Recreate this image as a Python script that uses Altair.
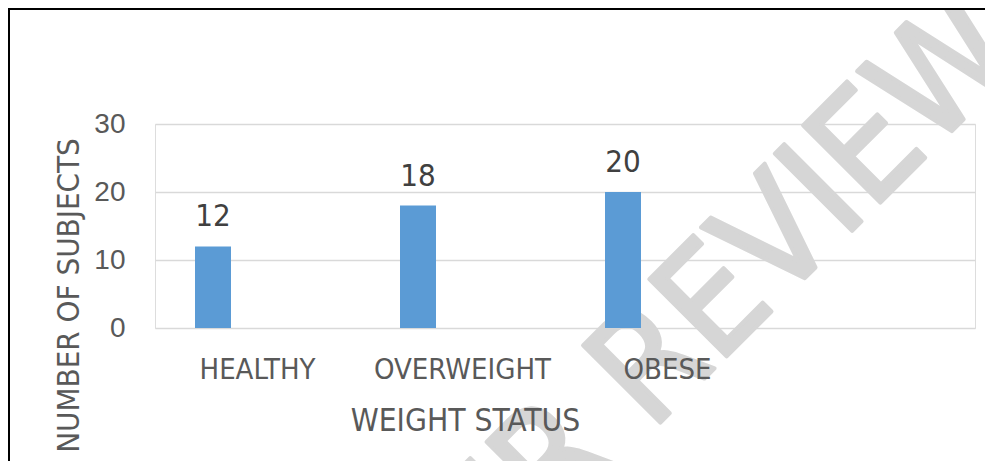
import altair as alt
import pandas as pd

# ---- data ----
categories = ["HEALTHY", "OVERWEIGHT", "OBESE", ""]
subjects = [12, 18, 20]
y_ticks = [0, 10, 20, 30]
x_title = "WEIGHT STATUS"
y_title = "NUMBER OF SUBJECTS"
watermark = "PEER REVIEW"

df = pd.DataFrame({"status": categories[:3], "n": subjects})

NARROW = "DejaVu Sans Condensed, sans-serif"
REG = "Liberation Sans, Arial, sans-serif"
GRAY = "#595959"

x_enc = alt.X(
    "status:N",
    sort=categories,
    scale=alt.Scale(domain=categories, paddingInner=0, paddingOuter=0),
    axis=alt.Axis(
        title=x_title, labelAngle=0, labelFontSize=29, labelFont=NARROW,
        labelColor=GRAY, labelBaseline="alphabetic", labelPadding=50,
        labelLimit=0, ticks=False, domain=False, grid=False, zindex=1,
        titleFontSize=31.5, titleFont=NARROW, titleColor=GRAY,
        titleFontWeight="normal", titleX=310, titleY=102,
        titleBaseline="alphabetic", titleAlign="center", titleLimit=0,
    ),
)
y_enc = alt.Y(
    "n:Q",
    scale=alt.Scale(domain=[0, 30], nice=False),
    axis=alt.Axis(
        values=y_ticks, labelFontSize=28, labelFont=REG, labelColor=GRAY,
        labelPadding=30, ticks=False, domain=False, grid=True,
        gridColor="#D9D9D9", gridWidth=1.5,
        title=y_title, titleFontSize=31, titleFont=NARROW, titleColor=GRAY,
        titleFontWeight="normal", titleX=-77, titleY=171, titleAngle=270,
        titleBaseline="alphabetic", titleAlign="center", titleLimit=0,
    ),
)

wm = alt.Chart(pd.DataFrame({"t": [watermark]})).mark_text(
    angle=315, fontSize=150, font=NARROW, color="#d6d6d6",
    stroke="#d6d6d6", strokeWidth=4, strokeJoin="round",
    align="center", baseline="alphabetic",
).encode(text="t:N", x=alt.value(546), y=alt.value(258))

one = pd.DataFrame({"k": [0]})
border_top = alt.Chart(one).mark_rule(color="black", strokeWidth=2).encode(
    x=alt.value(-147), x2=alt.value(840), y=alt.value(-115)
)
border_left = alt.Chart(one).mark_rule(color="black", strokeWidth=2).encode(
    x=alt.value(-146), y=alt.value(-116), y2=alt.value(360)
)

bars = alt.Chart(df).mark_bar(size=36, xOffset=-44.5, color="#5B9BD5").encode(
    x=x_enc, y=y_enc
)
labels = alt.Chart(df).mark_text(
    dy=-20, xOffset=-44.5, baseline="alphabetic", fontSize=31,
    font=NARROW, color="#404040",
).encode(x=x_enc, y=y_enc, text="n:Q")

chart = alt.layer(wm, bars, labels, border_top, border_left).properties(
    width=820, height=204,
    autosize=alt.AutoSizeParams(type="none"),
    padding={"left": 147, "top": 116, "right": 10, "bottom": 133},
).configure_view(stroke=None).configure(background="white")

chart.save("out.html", embed_options={"renderer": "svg", "actions": False})
